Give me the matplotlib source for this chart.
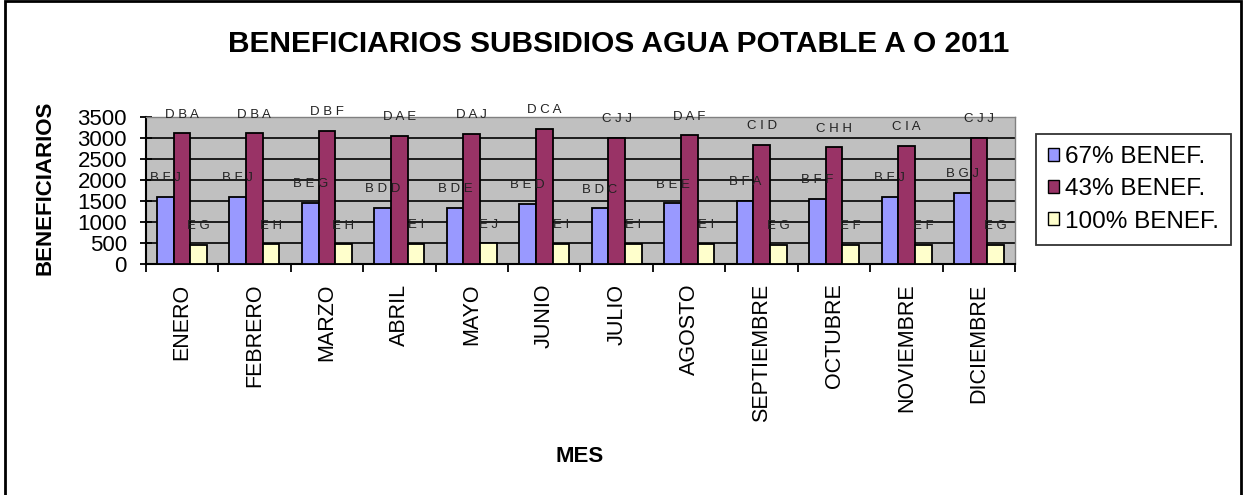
import matplotlib
matplotlib.use("Agg")
import matplotlib.pyplot as plt
import numpy as np
from matplotlib.patches import Rectangle

plt.rcParams['font.family'] = ['Liberation Sans', 'DejaVu Sans']

months = ["ENERO", "FEBRERO", "MARZO", "ABRIL", "MAYO", "JUNIO", "JULIO",
          "AGOSTO", "SEPTIEMBRE", "OCTUBRE", "NOVIEMBRE", "DICIEMBRE"]
series_names = ["67% BENEF.", "43% BENEF.", "100% BENEF."]
benef_67 = [1595, 1595, 1465, 1335, 1345, 1435, 1325, 1445, 1505, 1555, 1595, 1695]
benef_43 = [3105, 3105, 3155, 3045, 3095, 3205, 2995, 3055, 2835, 2775, 2805, 2995]
benef_100 = [465, 475, 475, 485, 495, 485, 485, 485, 465, 455, 455, 465]
labels_67 = ["B F J", "B F J", "B E G", "B D D", "B D E", "B E D", "B D C",
             "B E E", "B F A", "B F F", "B F J", "B G J"]
labels_43 = ["D B A", "D B A", "D B F", "D A E", "D A J", "D C A", "C J J",
             "D A F", "C I D", "C H H", "C I A", "C J J"]
labels_100 = ["E G", "E H", "E H", "E I", "E J", "E I", "E I",
              "E I", "E G", "E F", "E F", "E G"]
yticks = [0, 500, 1000, 1500, 2000, 2500, 3000, 3500]
colors = ["#9999FF", "#993366", "#FFFFCC"]

W, H = 1243, 495
fig = plt.figure(figsize=(W / 100, H / 100), dpi=100)
fig.patch.set_facecolor("white")

# outer chart border
fig.add_artist(Rectangle((5 / W, -0.05), (1241 - 5) / W, 1.05 - 1.5 / H,
                         transform=fig.transFigure, fill=False,
                         edgecolor="black", linewidth=2))

ax = fig.add_axes([145.7 / W, 1 - 264.3 / H, (1015.3 - 145.7) / W, (264.3 - 116.7) / H])
ax.set_facecolor("#C0C0C0")

x = np.arange(len(months))
bw = 0.23
series = [benef_67, benef_43, benef_100]
labs = [labels_67, labels_43, labels_100]
for i, (vals, lab, col, name) in enumerate(zip(series, labs, colors, series_names)):
    pos = x + (i - 1) * bw
    ax.bar(pos, vals, width=bw, color=col, edgecolor="black", linewidth=1.3,
           label=name, zorder=3)
    for px, v, t in zip(pos, vals, lab):
        ax.annotate(t, (px, v), xytext=(0, 13.5), textcoords="offset points",
                    ha="center", va="center", fontsize=9.5, color="#222222",
                    zorder=4)

ax.set_xlim(-0.5, len(months) - 0.5)
ax.set_ylim(0, 3500)
ax.set_yticks(yticks)
ax.set_yticklabels([str(v) for v in yticks], fontsize=16)
for g in yticks[1:-1]:
    ax.axhline(g, color="black", linewidth=1.2, zorder=1)

ax.set_xticks(x)
ax.set_xticklabels(months, rotation=90, fontsize=15.5, va="top")
ax.set_xticks(np.arange(len(months) + 1) - 0.5, minor=True)
ax.tick_params(axis="x", which="major", length=0, pad=14)
ax.tick_params(axis="x", which="minor", length=6, width=1.3, direction="out")
ax.tick_params(axis="y", length=9, width=1.3, direction="inout", pad=9)

for s in ["left", "bottom"]:
    ax.spines[s].set_color("black")
    ax.spines[s].set_linewidth(1.5)
for s in ["top", "right"]:
    ax.spines[s].set_color("#808080")
    ax.spines[s].set_linewidth(1.0)

fig.text(618.5 / W, 1 - 43.5 / H, "BENEFICIARIOS SUBSIDIOS AGUA POTABLE A O 2011",
         ha="center", va="center", fontsize=21.5, fontweight="bold")
fig.text(45 / W, 1 - 188 / H, "BENEFICIARIOS", rotation=90, ha="center",
         va="center", fontsize=16, fontweight="bold")
fig.text(580 / W, 1 - 456.5 / H, "MES", ha="center", va="center",
         fontsize=16, fontweight="bold")

leg = ax.legend(loc="upper left", bbox_to_anchor=(1036 / W, 1 - 134 / H),
                bbox_transform=fig.transFigure, fontsize=17.5, frameon=True,
                fancybox=False, edgecolor="black", handlelength=0.45,
                handleheight=0.45, handletextpad=0.25, labelspacing=0.42,
                borderpad=0.5, borderaxespad=0)
leg.get_frame().set_linewidth(1.3)
for h in leg.legend_handles:
    h.set_linewidth(1.0)

fig.savefig("out.png", dpi=100)
